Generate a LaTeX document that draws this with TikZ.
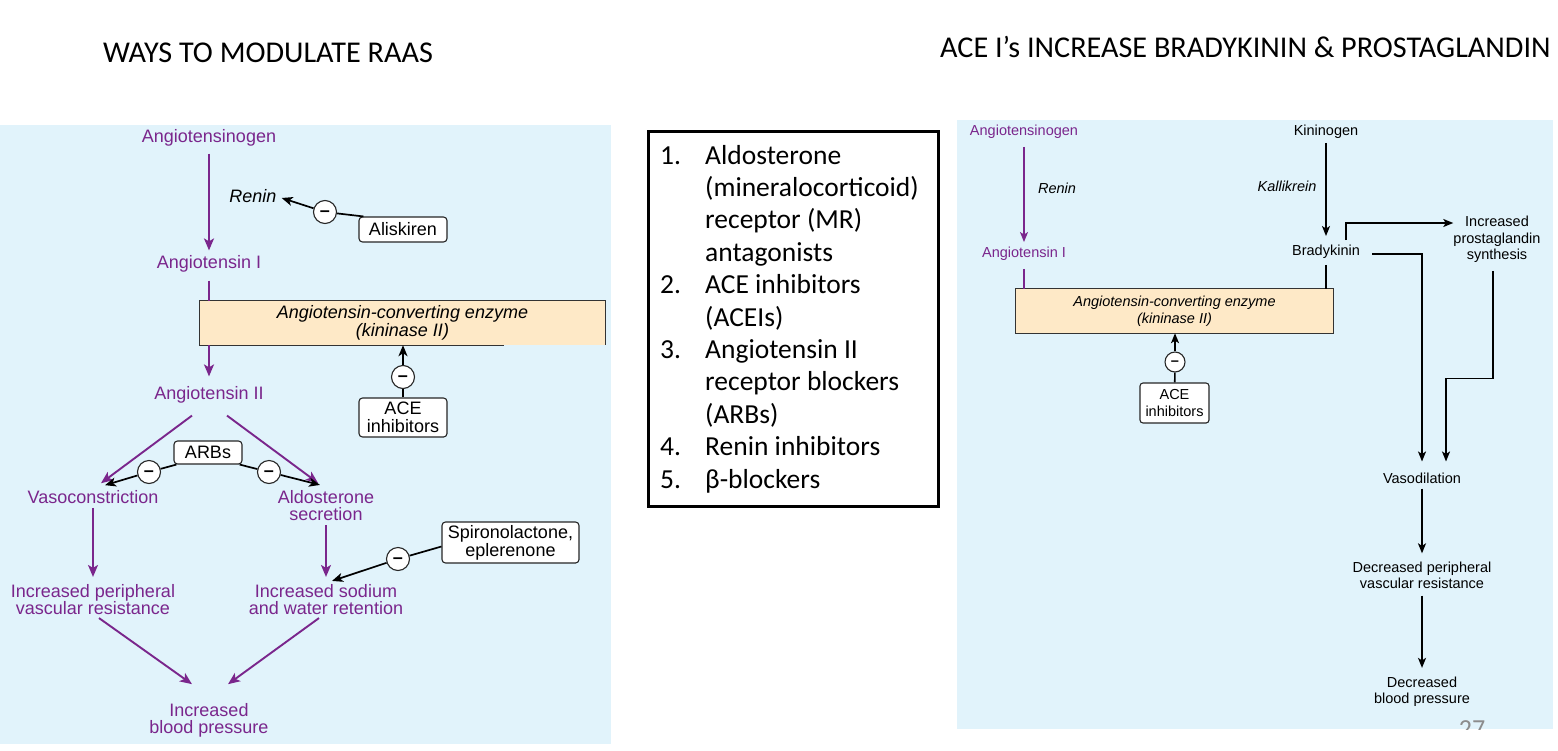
\documentclass[tikz,border=0pt]{standalone}
\usepackage{fontspec}
\setmainfont{Liberation Sans}
\newfontfamily\slidefont{Carlito}
\usetikzlibrary{arrows.meta,calc}

\definecolor{panelblue}{RGB}{225,243,251}
\definecolor{acepeach}{RGB}{254,233,199}
\definecolor{raaspurple}{RGB}{122,38,140}
\definecolor{pagegray}{RGB}{140,140,140}

\newcommand{\bigfont}{\fontsize{18}{17.5}\selectfont}
\newcommand{\smallfont}{\fontsize{14.5}{16.3}\selectfont}
\newcommand{\titlefont}{\slidefont\fontsize{30.2}{31}\selectfont}
\newcommand{\minussign}{\raisebox{-0.27em}[0pt][0pt]{--}}

\tikzset{
  lbl/.style={inner sep=0pt, align=center, font=\bigfont},
  lbls/.style={inner sep=0pt, align=center, font=\smallfont},
  raas/.style={lbl, text=raaspurple},
  raass/.style={lbls, text=raaspurple},
  drugbox/.style={draw=black!85, fill=white, rounded corners=3.5pt, line width=1.1pt, inner sep=0pt, align=center, font=\bigfont},
  drugboxs/.style={drugbox, rounded corners=3pt, font=\smallfont},
  minus/.style={circle, draw=black!85, fill=white, line width=1.1pt, minimum size=23pt, inner sep=0pt, font=\bigfont\bfseries},
  minuss/.style={minus, minimum size=20pt, font=\smallfont\bfseries},
  enzyme/.style={fill=acepeach, inner sep=0pt, align=center, font=\bigfont\itshape},
  boxedge/.style={draw=black!80, line width=1pt},
  parr/.style={draw=raaspurple, line width=1.9pt, -{Stealth[length=12pt,width=10pt,inset=3pt]}},
  pline/.style={draw=raaspurple, line width=1.9pt},
  barr/.style={draw=black, line width=1.7pt, -{Stealth[length=11pt,width=9pt,inset=3pt]}},
  bline/.style={draw=black, line width=1.7pt},
  parrs/.style={draw=raaspurple, line width=1.6pt, -{Stealth[length=10pt,width=8pt,inset=2.5pt]}},
  plines/.style={draw=raaspurple, line width=1.6pt},
  barrs/.style={draw=black, line width=1.6pt, -{Stealth[length=10pt,width=8pt,inset=2.5pt]}},
  blines/.style={draw=black, line width=1.6pt},
  listframe/.style={draw=black, line width=3.5pt, minimum width=290pt, minimum height=375pt, inner sep=0pt},
}

\begin{document}
\begin{tikzpicture}[x=1pt,y=-1pt]
\useasboundingbox[fill=white] (0,0) rectangle (1558,750);

% titles
\node[font=\titlefont, anchor=base west, inner sep=0pt] (ltitle) at (103,62) {WAYS TO MODULATE RAAS};
\node[font=\titlefont, anchor=base west, inner sep=0pt] (rtitle) at (940,57) {ACE I’s INCREASE BRADYKININ \& PROSTAGLANDIN};

% left panel: ways to modulate RAAS
\fill[panelblue] (0,125) rectangle (611,744);

\node[raas] (agen) at (209,138) {Angiotensinogen};
\node[raas] (ang1) at (209,264) {Angiotensin I};
\node[raas] (ang2) at (209,395) {Angiotensin II};
\node[lbl, font=\bigfont\itshape] (renin) at (253,196) {Renin};
\node[drugbox, minimum width=88pt, minimum height=25pt] (alis) at (403,229.5) {Aliskiren};
\node[minus] (m1) at (325,212) {\minussign};

\node[enzyme, minimum width=405pt, minimum height=44pt] (acel) at (402.5,323) {Angiotensin-converting enzyme\\(kininase II)};
\draw[boxedge] ($(acel.south west)+(304,0)$) -- (acel.south west) -- (acel.north west) -- (acel.north east) -- (acel.south east);
\node[minus] (m2) at (403,377) {\minussign};
\node[drugbox, minimum width=88pt, minimum height=39pt, font=\fontsize{18}{18}\selectfont] (acei) at (403,417.5) {ACE\\inhibitors};

\node[drugbox, minimum width=68pt, minimum height=23pt] (arbs) at (208,452.5) {ARBs};
\node[minus] (m3) at (149,472) {\minussign};
\node[minus] (m4) at (269,472) {\minussign};
\node[raas] (vaso) at (93,497) {Vasoconstriction};
\node[raas] (aldo) at (326,505.5) {Aldosterone\\secretion};
\node[raas] (incp) at (93,599.5) {Increased peripheral\\vascular resistance};
\node[raas] (incs) at (326,599.5) {Increased sodium\\and water retention};
\node[drugbox, minimum width=137pt, minimum height=41pt, font=\fontsize{18}{18}\selectfont] (spiro) at (510.5,542.5) {Spironolactone,\\eplerenone};
\node[minus] (m5) at (398,559) {\minussign};
\node[raas] (bp) at (209,720.5) {Increased\\blood pressure};

\draw[parr] ([yshift=-7pt]agen.south) -- ([yshift=5pt]ang1.north);
\draw[pline] ([yshift=-8pt]ang1.south) -- (ang1.south |- acel.north);
\draw[parr] (ang1.south |- acel.south) -- ([yshift=10pt]ang2.north);
\draw[bline] ([xshift=5pt]alis.north west) -- (m1);
\draw[barr] (m1) -- ([xshift=5pt,yshift=-2pt]renin.east);
\draw[bline] (acei) -- (m2);
\draw[barr] (m2) -- (m2 |- acel.south);
\draw[parr] ($(ang2.south)+(-17,12)$) -- ($(vaso.north)+(8,-7)$);
\draw[parr] ($(ang2.south)+(18,12)$) -- ($(aldo.north)+(-8,-7)$);
\draw[bline] ([xshift=3pt]arbs.south west) -- (m3);
\draw[barr] (m3) -- ($(vaso.north)+(12,-5)$);
\draw[bline] ([xshift=-3pt]arbs.south east) -- (m4);
\draw[barr] (m4) -- ($(aldo.north)+(-6,-5)$);
\draw[parr] ([yshift=-4pt]vaso.south) -- ([yshift=7pt]incp.north);
\draw[parr] ([yshift=-4pt]aldo.south) -- ([yshift=7pt]incs.north);
\draw[bline] ([yshift=-4pt]spiro.west) -- (m5);
\draw[barr] (m5) -- ($(incs.north)+(6,-3)$);
\draw[parr] ($(incp.south)+(6,3)$) -- ($(bp.north)+(-17,-19)$);
\draw[parr] ($(incs.south)+(-7,3)$) -- ($(bp.north)+(19,-19)$);

% middle: list of drug classes
\node[listframe] (drugs) at (793.5,319) {};
\node[anchor=base west, inner sep=0pt, font=\slidefont\fontsize{27.5}{32.4}\selectfont] (druglist) at (660,164)
  {\begin{tabular}[t]{@{}p{45pt}@{}l@{}}
   1. & Aldosterone\\
      & (mineralocorticoid)\\
      & receptor (MR)\\
      & antagonists\\
   2. & ACE inhibitors\\
      & (ACEIs)\\
   3. & Angiotensin II\\
      & receptor blockers\\
      & (ARBs)\\
   4. & Renin inhibitors\\
   5. & β-blockers
   \end{tabular}};

% right panel: bradykinin and prostaglandin
\fill[panelblue] (957,120) rectangle (1553,729);
\begin{scope}
\clip (957,120) rectangle (1553,729);
\node[text=pagegray, font=\slidefont\fontsize{26}{26}\selectfont, anchor=base, inner sep=0pt] (page) at (1472,737) {27};
\end{scope}

\node[raass] (agen2) at (1024,132) {Angiotensinogen};
\node[lbls, font=\smallfont\itshape] (renin2) at (1057,188) {Renin};
\node[raass] (ang1r) at (1024,254) {Angiotensin I};
\node[lbls] (kin) at (1326,132) {Kininogen};
\node[lbls, font=\smallfont\itshape] (kall) at (1287,186) {Kallikrein};
\node[lbls] (brady) at (1326,252) {Bradykinin};
\node[lbls, font=\fontsize{14.5}{16.5}\selectfont] (prost) at (1497,239.5) {Increased\\prostaglandin\\synthesis};
\node[enzyme, font=\fontsize{14.5}{17}\selectfont\itshape, minimum width=317pt, minimum height=44pt] (acer) at (1174.5,311) {Angiotensin-converting enzyme\\(kininase II)};
\draw[boxedge] (acer.south west) rectangle (acer.north east);
\node[minuss] (m6) at (1175,362) {\minussign};
\node[drugboxs, minimum width=69pt, minimum height=40pt] (acei2) at (1174.5,403) {ACE\\inhibitors};
\node[lbls] (vaso2) at (1422,478) {Vasodilation};
\node[lbls] (decp) at (1422,575) {Decreased peripheral\\vascular resistance};
\node[lbls] (decbp) at (1422,692) {Decreased\\blood pressure};

\draw[parrs] ([yshift=-8pt]agen2.south) -- ([yshift=5pt]ang1r.north);
\draw[plines] ([yshift=-8pt]ang1r.south) -- (ang1r.south |- acer.north);
\draw[barrs] ([yshift=-4pt]kin.south) -- ([yshift=9pt]brady.north);
\draw[blines] ([yshift=-6pt]brady.south) -- (brady.south |- acer.north);
\draw[blines] (acei2) -- (m6);
\draw[barrs] (m6) -- (m6 |- acer.south);
\draw[barrs] ($(brady.north)+(20,-5)$) |- ($(prost.west)+(0,-16.5)$);
\draw[barrs] ($(brady.east)+(12,2)$) -| ($(vaso2.north)+(0,-11)$);
\draw[barrs] ($(prost.south)+(-4,8)$) |- ($(vaso2.north)+(24,-94)$) -- ($(vaso2.north)+(24,-11)$);
\draw[barrs] ([yshift=-5pt]vaso2.south) -- ([yshift=8pt]decp.north);
\draw[barrs] ([yshift=-7pt]decp.south) -- ([yshift=9pt]decbp.north);

\end{tikzpicture}
\end{document}
